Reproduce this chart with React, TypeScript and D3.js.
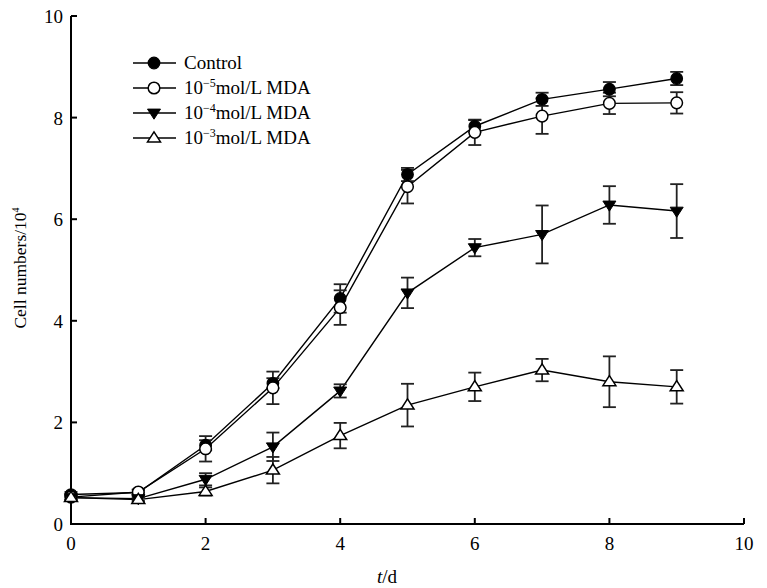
import React from "react";
import * as d3 from "d3";

// days
const days = [0, 1, 2, 3, 4, 5, 6, 7, 8, 9];

// cell numbers (x10^4) and standard errors
const control = [0.58, 0.62, 1.55, 2.77, 4.44, 6.88, 7.83, 8.36, 8.56, 8.77];
const controlErr = [0.05, 0.05, 0.1, 0.1, 0.28, 0.13, 0.12, 0.13, 0.14, 0.13];
const mda5 = [0.53, 0.63, 1.48, 2.68, 4.26, 6.64, 7.71, 8.03, 8.28, 8.29];
const mda5Err = [0.05, 0.05, 0.25, 0.32, 0.34, 0.33, 0.25, 0.35, 0.21, 0.21];
const mda4 = [0.52, 0.5, 0.88, 1.52, 2.62, 4.55, 5.44, 5.7, 6.28, 6.16];
const mda4Err = [0.04, 0.04, 0.12, 0.28, 0.13, 0.3, 0.17, 0.57, 0.37, 0.53];
const mda3 = [0.52, 0.48, 0.64, 1.06, 1.74, 2.34, 2.7, 3.03, 2.8, 2.7];
const mda3Err = [0.04, 0.04, 0.08, 0.26, 0.25, 0.42, 0.28, 0.22, 0.5, 0.33];

const xTicks = [0, 2, 4, 6, 8, 10];
const yTicks = [0, 2, 4, 6, 8, 10];

const legendExp = ["", "\u22125", "\u22124", "\u22123"];

type Series = { vals: number[]; err: number[]; marker: string };
const series: Series[] = [
  { vals: control, err: controlErr, marker: "filledCircle" },
  { vals: mda5, err: mda5Err, marker: "openCircle" },
  { vals: mda4, err: mda4Err, marker: "filledDown" },
  { vals: mda3, err: mda3Err, marker: "openUp" },
];

const W = 767, H = 588;
const FONT = "'Liberation Serif', 'Times New Roman', serif";

function Marker({ kind, cx, cy }: { kind: string; cx: number; cy: number }) {
  if (kind === "filledCircle")
    return <circle cx={cx} cy={cy} r={5.8} fill="#000" stroke="#000" strokeWidth={1.2} />;
  if (kind === "openCircle")
    return <circle cx={cx} cy={cy} r={5.8} fill="#fff" stroke="#000" strokeWidth={1.5} />;
  const s = 6.5;
  if (kind === "filledDown") {
    const p = `M${cx - s},${cy - s * 0.6}L${cx + s},${cy - s * 0.6}L${cx},${cy + s * 0.95}Z`;
    return <path d={p} fill="#000" stroke="#000" strokeWidth={1} />;
  }
  const p = `M${cx - s},${cy + s * 0.6}L${cx + s},${cy + s * 0.6}L${cx},${cy - s * 0.95}Z`;
  return <path d={p} fill="#fff" stroke="#000" strokeWidth={1.5} />;
}

export default function App() {
  const x = d3.scaleLinear().domain([0, 10]).range([71, 744]);
  const y = d3.scaleLinear().domain([0, 10]).range([524, 16]);
  const line = d3
    .line<number>()
    .x((_, i) => x(days[i]))
    .y((d) => y(d));

  const legendX = 133;
  const legendY = [63, 88, 113, 138];

  return (
    <svg
      width={W}
      height={H}
      style={{ position: "absolute", left: 0, top: 0, background: "#fff" }}
      fontFamily={FONT}
    >
      {/* axes */}
      <path
        d={`M${x(0)},${y(10)}V${y(0)}H${x(10)}`}
        fill="none"
        stroke="#000"
        strokeWidth={2}
      />
      {yTicks.map((t) => (
        <g key={"y" + t}>
          {t > 0 && <line x1={x(0)} x2={x(0) + 6} y1={y(t)} y2={y(t)} stroke="#000" strokeWidth={2} />}
          <text x={x(0) - 8} y={y(t) + 7} textAnchor="end" fontSize={19}>
            {t}
          </text>
        </g>
      ))}
      {xTicks.map((t) => (
        <g key={"x" + t}>
          {t > 0 && <line x1={x(t)} x2={x(t)} y1={y(0)} y2={y(0) - 6} stroke="#000" strokeWidth={2} />}
          <text x={x(t)} y={y(0) + 26} textAnchor="middle" fontSize={19}>
            {t}
          </text>
        </g>
      ))}
      <text x={387} y={583} textAnchor="middle" fontSize={19}>
        <tspan fontStyle="italic">t</tspan>/d
      </text>
      <text transform="translate(26,268) rotate(-90)" textAnchor="middle" fontSize={17.5}>
        Cell numbers/10
        <tspan dy={-7} fontSize={10}>4</tspan>
      </text>

      {/* lines */}
      {series.map((s, k) => (
        <path key={"l" + k} d={line(s.vals) || ""} fill="none" stroke="#000" strokeWidth={1.4} />
      ))}
      {/* error bars */}
      {series.map((s, k) =>
        s.vals.map((v, i) => {
          const cx = x(days[i]);
          const y1 = y(v + s.err[i]);
          const y2 = y(v - s.err[i]);
          return (
            <g key={`e${k}-${i}`} stroke="#222" strokeWidth={1.8}>
              <line x1={cx} x2={cx} y1={y1} y2={y2} />
              <line x1={cx - 6.5} x2={cx + 6.5} y1={y1} y2={y1} />
              <line x1={cx - 6.5} x2={cx + 6.5} y1={y2} y2={y2} />
            </g>
          );
        })
      )}
      {/* markers */}
      {series.map((s, k) =>
        s.vals.map((v, i) => <Marker key={`m${k}-${i}`} kind={s.marker} cx={x(days[i])} cy={y(v)} />)
      )}

      {/* legend */}
      {series.map((s, k) => (
        <g key={"lg" + k}>
          <line x1={legendX} x2={legendX + 43} y1={legendY[k]} y2={legendY[k]} stroke="#000" strokeWidth={1.6} />
          <Marker kind={s.marker} cx={legendX + 21} cy={legendY[k]} />
          <text x={legendX + 51} y={legendY[k] + 6} fontSize={19}>
            {k === 0 ? (
              "Control"
            ) : (
              <>
                10
                <tspan dy={-7} fontSize={12}>{legendExp[k]}</tspan>
                <tspan dy={7}>mol/L MDA</tspan>
              </>
            )}
          </text>
        </g>
      ))}
    </svg>
  );
}
